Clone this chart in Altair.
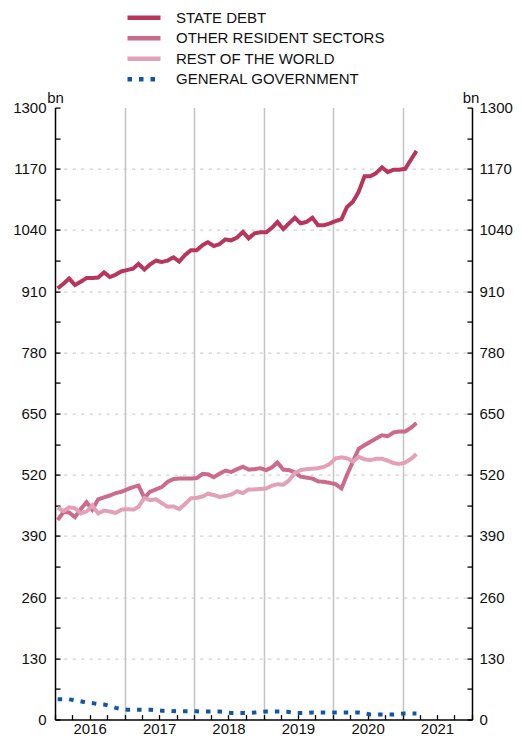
import altair as alt
import pandas as pd

# monthly observations, Jan 2016 .. Mar 2021 (63 months)
dates = [f"{2016 + k // 12}-{k % 12 + 1:02d}-15" for k in range(63)]

state_debt = [916, 926, 937, 923, 930, 938, 938, 939, 950, 940, 945, 952,
              955, 958, 968, 956, 967, 975, 972, 975, 982, 973, 987, 997,
              997, 1008, 1014, 1006, 1010, 1020, 1018, 1024, 1036, 1022, 1033, 1035,
              1035, 1045, 1057, 1042, 1054, 1066, 1054, 1057, 1066, 1050, 1050, 1054,
              1059, 1063, 1089, 1100, 1121, 1154, 1154, 1161, 1173, 1163, 1168, 1168,
              1170, 1190, 1208]

other_resident = [424, 441, 440, 430, 447, 462, 446, 468, 472, 476, 481, 484,
                  489, 494, 497, 471, 484, 489, 494, 505, 511, 512, 512, 512,
                  513, 522, 521, 515, 522, 529, 526, 532, 537, 531, 532, 534,
                  530, 536, 546, 531, 530, 525, 516, 514, 512, 506, 505, 503,
                  500, 491, 520, 548, 575, 583, 590, 597, 604, 602, 610, 612,
                  612, 620, 630]

rest_of_world = [450, 443, 451, 449, 438, 442, 455, 438, 444, 442, 439, 446,
                 447, 446, 452, 471, 466, 468, 460, 452, 453, 447, 458, 470,
                 471, 474, 480, 477, 473, 475, 478, 485, 481, 489, 489, 490,
                 491, 497, 500, 499, 508, 524, 530, 532, 533, 534, 537, 543,
                 555, 557, 555, 548, 558, 553, 551, 554, 554, 550, 545, 543,
                 546, 554, 564]

general_gov = [43, 43, 43, 41, 39, 36, 35, 33, 32, 29, 25, 22,
               21, 21, 21, 21, 21, 20, 19, 19, 18, 17.5, 17.5, 17.5,
               17.5, 17, 17, 17, 17, 16, 14, 14, 14, 14, 15, 16,
               17, 17, 17, 17, 16, 14, 14, 14, 15, 15, 15, 15,
               15, 15, 15, 15, 15, 13, 11, 11, 11, 11, 11, 12,
               13, 13, 13]

series_names = ["STATE DEBT", "OTHER RESIDENT SECTORS", "REST OF THE WORLD", "GENERAL GOVERNMENT"]
series_colors = ["#b8355b", "#cc6a8a", "#e2a1b6", "#1156a6"]
series_dashes = [[1, 0], [1, 0], [1, 0], [4.5, 7]]

y_labels = list(range(0, 1301, 130))
y_grid = list(range(130, 1300, 130))
y_minor = list(range(0, 1301, 65))
year_mid = [alt.DateTime(year=y, month=7, date=1, utc=True) for y in range(2016, 2022)]
year_start = [alt.DateTime(year=y, month=1, date=1, utc=True) for y in range(2017, 2022)]
quarters = [alt.DateTime(year=2016 + q // 4, month=(q % 4) * 3 + 1, date=1, utc=True) for q in range(25)]

rows = []
for name, vals in zip(series_names, [state_debt, other_resident, rest_of_world, general_gov]):
    for d, v in zip(dates, vals):
        rows.append({"date": d, "series": name, "value": v})
df = pd.DataFrame(rows)

FONT = "Liberation Sans"
INK = "#111111"
xscale = alt.Scale(type="utc", domain=[alt.DateTime(year=2016, month=1, date=1, utc=True),
                                       alt.DateTime(year=2022, month=1, date=1, utc=True)])
yscale = alt.Scale(domain=[0, 1300], nice=False)

legend_cfg = dict(orient="none", legendX=70, legendY=-98.3, title=None,
                  symbolType="stroke", symbolSize=1089, symbolStrokeWidth=4.5,
                  clipHeight=17, rowPadding=3.5, labelFontSize=15, labelFont=FONT,
                  labelColor=INK, labelOffset=13, padding=0, labelLimit=400)

main = alt.Chart(df).mark_line(strokeWidth=4, strokeCap="butt").encode(
    x=alt.X("date:T", scale=xscale, title=None,
            axis=alt.Axis(orient="bottom", values=year_mid, labelExpr="utcFormat(datum.value, '%Y')",
                          ticks=False, grid=False, domainColor="black", domainWidth=1.5,
                          labelFontSize=15, labelFont=FONT, labelColor=INK, labelPadding=14,
                          labelBaseline="alphabetic", labelFlush=False, labelOverlap=False)),
    y=alt.Y("value:Q", scale=yscale,
            axis=alt.Axis(orient="left", values=y_labels, format="d", grid=False, ticks=False,
                          domainColor="black", domainWidth=1.5, labelFontSize=15, labelFont=FONT,
                          labelColor=INK, labelPadding=9, title="bn", titleAngle=0,
                          titleX=0, titleY=-4.6, titleAlign="center", titleBaseline="alphabetic",
                          titleFontWeight="normal", titleFontSize=15, titleFont=FONT,
                          titleColor=INK)),
    color=alt.Color("series:N", scale=alt.Scale(domain=series_names, range=series_colors),
                    legend=alt.Legend(**legend_cfg)),
    strokeDash=alt.StrokeDash("series:N", scale=alt.Scale(domain=series_names, range=series_dashes),
                              legend=alt.Legend(**legend_cfg)),
)

grid = alt.Chart(df).mark_line(opacity=0).encode(
    x=alt.X("date:T", scale=xscale, title=None,
            axis=alt.Axis(orient="bottom", values=year_start, grid=True, gridColor="#c6c6c6",
                          gridWidth=1.6, labels=False, ticks=False, domain=False)),
    y=alt.Y("value:Q", scale=yscale, title=None,
            axis=alt.Axis(orient="left", values=y_grid, grid=True, gridColor="#c8c8c8",
                          gridDash=[3.5, 5], gridWidth=1, labels=False, ticks=False, domain=False)),
)

inner_ticks = alt.Chart(df).mark_line(opacity=0).encode(
    x=alt.X("date:T", scale=xscale, title=None,
            axis=alt.Axis(orient="bottom", offset=-5, values=quarters, grid=False, labels=False,
                          ticks=True, tickSize=5, tickColor="black", tickWidth=1.3, domain=False)),
    y=alt.Y("value:Q", scale=yscale, title=None,
            axis=alt.Axis(orient="left", offset=-5, values=y_minor, grid=False, labels=False,
                          ticks=True, tickSize=5, tickColor="black", tickWidth=1.3, domain=False)),
)

right_axis = alt.Chart(df).mark_line(opacity=0).encode(
    x=alt.X("date:T", scale=xscale, axis=None),
    y=alt.Y("value:Q", scale=yscale,
            axis=alt.Axis(orient="right", values=y_labels, format="d", grid=False, ticks=False,
                          domainColor="black", domainWidth=1.5, labelFontSize=15, labelFont=FONT,
                          labelColor=INK, labelPadding=7, title="bn", titleAngle=0,
                          titleX=-1.5, titleY=-4.6, titleAlign="center", titleBaseline="alphabetic",
                          titleFontWeight="normal", titleFontSize=15, titleFont=FONT,
                          titleColor=INK)),
)

right_ticks = alt.Chart(df).mark_line(opacity=0).encode(
    x=alt.X("date:T", scale=xscale, axis=None),
    y=alt.Y("value:Q", scale=yscale, title=None,
            axis=alt.Axis(orient="right", offset=-5, values=y_minor, grid=False, labels=False,
                          ticks=True, tickSize=5, tickColor="black", tickWidth=1.3, domain=False)),
)

chart = alt.layer(grid, inner_ticks, right_ticks, right_axis, main).resolve_axis(
    x="independent", y="independent"
).properties(
    width=417, height=612,
    padding={"left": 47, "top": 99.6, "right": 41, "bottom": 19},
    autosize=alt.AutoSizeParams(type="none"),
).configure_view(stroke=None)

chart.save("out.html", embed_options={"renderer": "svg", "actions": False})
